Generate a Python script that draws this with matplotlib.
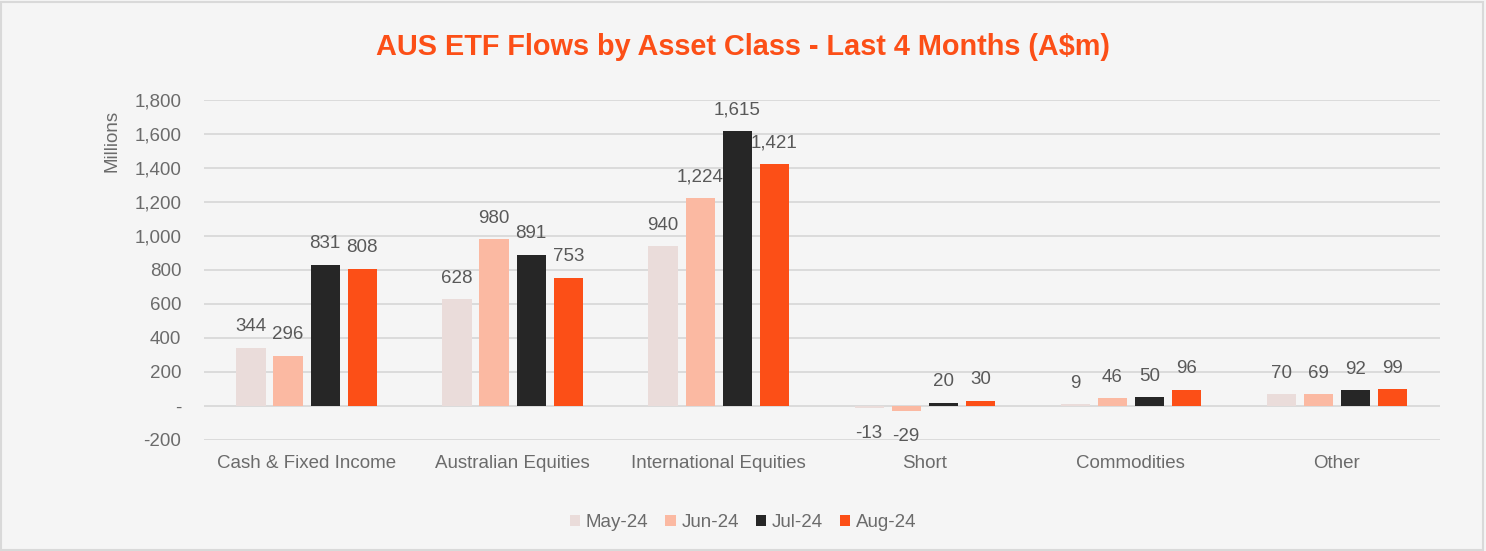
import matplotlib
matplotlib.use("Agg")
import matplotlib.pyplot as plt
from matplotlib.ticker import FuncFormatter
from matplotlib.patches import Rectangle
import numpy as np

categories = ["Cash & Fixed Income", "Australian Equities", "International Equities",
              "Short", "Commodities", "Other"]
series_names = ["May-24", "Jun-24", "Jul-24", "Aug-24"]
may_24 = [344, 628, 940, -13, 9, 70]
jun_24 = [296, 980, 1224, -29, 46, 69]
jul_24 = [831, 891, 1615, 20, 50, 92]
aug_24 = [808, 753, 1421, 30, 96, 99]
series_values = [may_24, jun_24, jul_24, aug_24]
colors = ["#eadcda", "#fbb9a2", "#262626", "#fc4f17"]

plt.rcParams['font.family'] = ['Liberation Sans', 'DejaVu Sans']
txt = "#6b6b6b"
lbl = "#595959"
bg = "#f5f5f5"
fs = 13.5

fig = plt.figure(figsize=(14.86, 5.51), dpi=100, facecolor=bg)
fig.patches.append(Rectangle((0.001, 0.002), 0.997, 0.995, transform=fig.transFigure,
                             fill=False, edgecolor="#d9d9d9", linewidth=1.5))
ax = fig.add_axes([0.137, 0.2015, 0.832, 0.617])
ax.set_facecolor(bg)

x = np.arange(len(categories))
pitch = 0.18
width = 0.142
for i, (name, vals, c) in enumerate(zip(series_names, series_values, colors)):
    pos = x + (i - 1.5) * pitch
    ax.bar(pos, vals, width=width, color=c, label=name, zorder=3)
    for p, v in zip(pos, vals):
        if v >= 0:
            ax.annotate(f"{v:,}", (p, v), xytext=(0, 9), textcoords="offset points",
                        ha="center", va="bottom", fontsize=fs, color=lbl, zorder=4)
        else:
            ax.annotate(f"{v:,}", (p, v), xytext=(0, -12), textcoords="offset points",
                        ha="center", va="top", fontsize=fs, color=lbl, zorder=4)

ax.set_ylim(-200, 1800)
ax.set_xlim(-0.5, len(categories) - 0.5)
ax.set_yticks(np.arange(-200, 1801, 200))
ax.yaxis.set_major_formatter(FuncFormatter(lambda v, p: "-" if v == 0 else f"{int(v):,}"))
ax.grid(axis="y", color="#d9d9d9", linewidth=1.3, zorder=0)
ax.set_xticks(x)
ax.set_xticklabels(categories)
ax.tick_params(axis="both", length=0, labelsize=fs, labelcolor=txt)
ax.tick_params(axis="y", pad=16)
ax.tick_params(axis="x", pad=11)
for s in ax.spines.values():
    s.set_visible(False)
ax.set_ylabel("Millions", fontsize=fs, color=txt)
ax.yaxis.set_label_coords(-0.067, 0.88)

fig.text(0.5, 0.915, "AUS ETF Flows by Asset Class - Last 4 Months (A$m)", ha="center", va="center",
         fontsize=20.8, fontweight="bold", color="#fc4f17")

leg = fig.legend(loc="center", bbox_to_anchor=(0.5, 0.052), ncol=4, frameon=False,
                 fontsize=fs, handlelength=0.55, handleheight=0.55, handletextpad=0.3,
                 columnspacing=0.9)
for t in leg.get_texts():
    t.set_color(txt)

fig.savefig("out.png", dpi=100, facecolor=bg)
